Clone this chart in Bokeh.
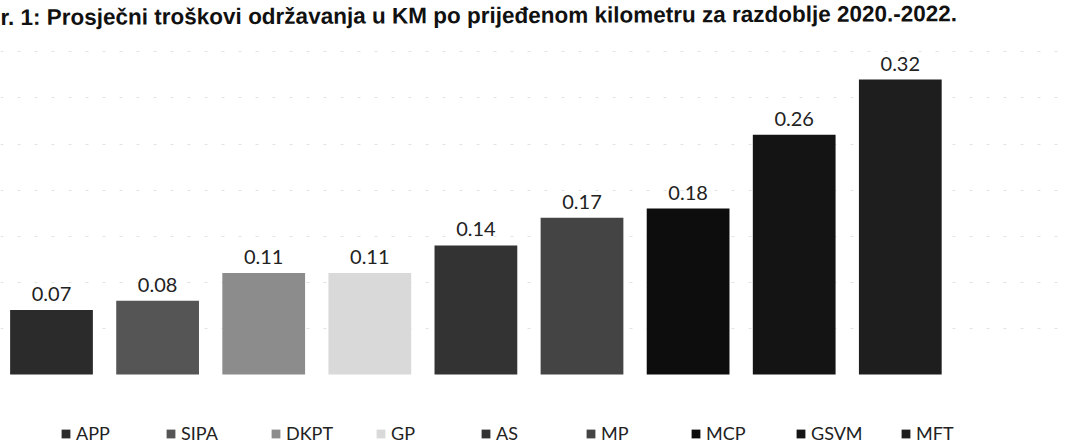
from bokeh.plotting import figure
from bokeh.models import ColumnDataSource, Label, Legend, LegendItem, Range1d, Grid, FixedTicker
from bokeh.core.properties import value
from bokeh.embed import file_html
from bokeh.resources import INLINE

title_text = "r. 1: Prosječni troškovi održavanja u KM po prijeđenom kilometru za razdoblje 2020.-2022."
categories = ["APP", "SIPA", "DKPT", "GP", "AS", "MP", "MCP", "GSVM", "MFT"]
values = [0.07, 0.08, 0.11, 0.11, 0.14, 0.17, 0.18, 0.26, 0.32]
colors = ["#2b2b2b", "#555555", "#8c8c8c", "#d9d9d9", "#333333", "#444444", "#0d0d0d", "#141414", "#1e1e1e"]
grid_levels = [0.05, 0.10, 0.15, 0.20, 0.25, 0.30, 0.35]

p = figure(width=1065, height=444,
           x_range=Range1d(-0.4807, 9.557), y_range=Range1d(-0.0759, 0.4057),
           output_backend="svg", toolbar_location=None,
           x_axis_location=None, y_axis_location=None,
           min_border=0, outline_line_color=None)
p.background_fill_color = "white"
p.border_fill_color = "white"
for g in p.grid:
    g.visible = False

grid = Grid(dimension=1, ticker=FixedTicker(ticks=grid_levels),
            grid_line_color="#c8c8c8", grid_line_dash="3 14", grid_line_alpha=0.5)
p.add_layout(grid)

items = []
for i, (c, v, col) in enumerate(zip(categories, values, colors)):
    src = ColumnDataSource(data=dict(x=[i], top=[v]))
    r = p.vbar(x="x", top="top", width=0.78, bottom=0, source=src,
               fill_color=col, line_color=None)
    items.append(LegendItem(label=c, renderers=[r]))

lab_src = ColumnDataSource(data=dict(x=list(range(len(values))), y=values,
                                     t=["%.2f" % v for v in values]))
p.text(x="x", y="y", text="t", source=lab_src, text_align="center",
       text_baseline="bottom", y_offset=-9, text_font=value("Lato"),
       text_font_size="20px", text_color="#222222")

legend = Legend(items=items, orientation="horizontal", location=(60, 0),
                glyph_width=11, glyph_height=11, label_standoff=5,
                label_width=80, spacing=9, padding=0, margin=0,
                label_text_font="Lato", label_text_font_size="18px",
                label_text_color="#222222",
                background_fill_alpha=0, border_line_color=None)
p.add_layout(legend)

p.add_layout(Label(x=0, y=427, x_units="screen", y_units="screen",
                   text=title_text, text_font="Liberation Sans",
                   text_font_style="bold", text_font_size="22.5px",
                   text_color="#111111", text_baseline="alphabetic",
                   angle=0.004))

open("out.html", "w").write(file_html(p, INLINE))
